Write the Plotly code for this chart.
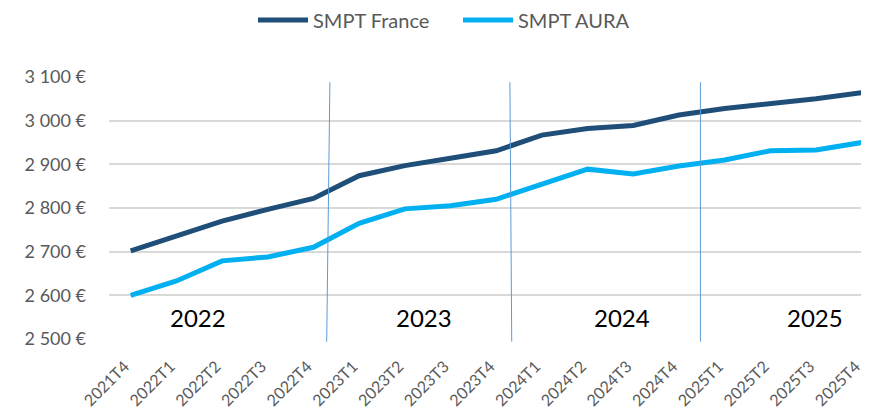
import plotly.graph_objects as go

quarters = ["2021T4", "2022T1", "2022T2", "2022T3", "2022T4",
            "2023T1", "2023T2", "2023T3", "2023T4",
            "2024T1", "2024T2", "2024T3", "2024T4",
            "2025T1", "2025T2", "2025T3", "2025T4"]
smpt_france = [2702, 2736, 2770, 2797, 2822, 2874, 2897, 2914, 2931,
               2967, 2982, 2989, 3013, 3028, 3038, 3050, 3064]
smpt_aura = [2600, 2633, 2679, 2688, 2710, 2765, 2798, 2805, 2820,
             2855, 2889, 2878, 2896, 2910, 2931, 2933, 2950]
y_ticks = [2500, 2600, 2700, 2800, 2900, 3000, 3100]
y_tick_labels = ["2 500 €", "2 600 €", "2 700 €", "2 800 €", "2 900 €", "3 000 €", "3 100 €"]
years = ["2022", "2023", "2024", "2025"]
year_label_pos = [1.47, 6.42, 10.75, 14.98]
separators = [(4.36, 4.29), (8.30, 8.34), (12.47, 12.47)]

FONT = "Lato"
GRAY = "#595959"
# page body has an 8px margin: shrink/shift so the plot lands where the reference has it
OFF = 8
W, H = 869 - OFF, 415 - OFF

fig = go.Figure()
fig.add_trace(go.Scatter(x=list(range(len(quarters))), y=smpt_france, name="SMPT France",
                         mode="lines", line=dict(color="#1F4E79", width=5)))
fig.add_trace(go.Scatter(x=list(range(len(quarters))), y=smpt_aura, name="SMPT AURA",
                         mode="lines", line=dict(color="#00B0F0", width=5)))

for (xt, xb) in separators:
    fig.add_shape(type="line", xref="x", yref="paper", x0=xb, x1=xt, y0=-0.01, y1=0.98,
                  line=dict(color="#5B9BD5", width=1), layer="above")

for yr, xp in zip(years, year_label_pos):
    fig.add_annotation(x=xp, y=2550, text=yr, showarrow=False, xref="x", yref="y",
                       font=dict(family=FONT, size=24, color="#000000"))

fig.update_layout(
    width=W, height=H,
    margin=dict(l=109 - OFF, r=0, t=77 - OFF, b=H - (339 - OFF), autoexpand=False),
    paper_bgcolor="white", plot_bgcolor="white",
    font=dict(family=FONT, color=GRAY, size=17),
    showlegend=True,
    legend=dict(orientation="h", xref="container", x=245 / W, xanchor="left",
                yref="container", y=1 - 12 / H, yanchor="middle",
                font=dict(family=FONT, size=20, color=GRAY),
                itemwidth=50, entrywidth=140, traceorder="normal"),
)
fig.update_xaxes(tickmode="array", tickvals=list(range(len(quarters))), ticktext=quarters,
                 range=[-0.475, 16.16], tickangle=-45, showgrid=False, zeroline=False,
                 showline=False, ticks="", automargin=False, ticklabelstandoff=14,
                 ticklabelshift=-6, ticklabeloverflow="allow",
                 tickfont=dict(family=FONT, size=16, color=GRAY))
fig.update_yaxes(range=[2500, 3100], tickmode="array", tickvals=y_ticks, ticktext=y_tick_labels,
                 showgrid=True, gridcolor="#D9D9D9", gridwidth=1.5, zeroline=False,
                 showline=False, ticks="", ticklabelstandoff=22, automargin=False,
                 tickfont=dict(family=FONT, size=18, color=GRAY))

fig.write_html("out.html")
